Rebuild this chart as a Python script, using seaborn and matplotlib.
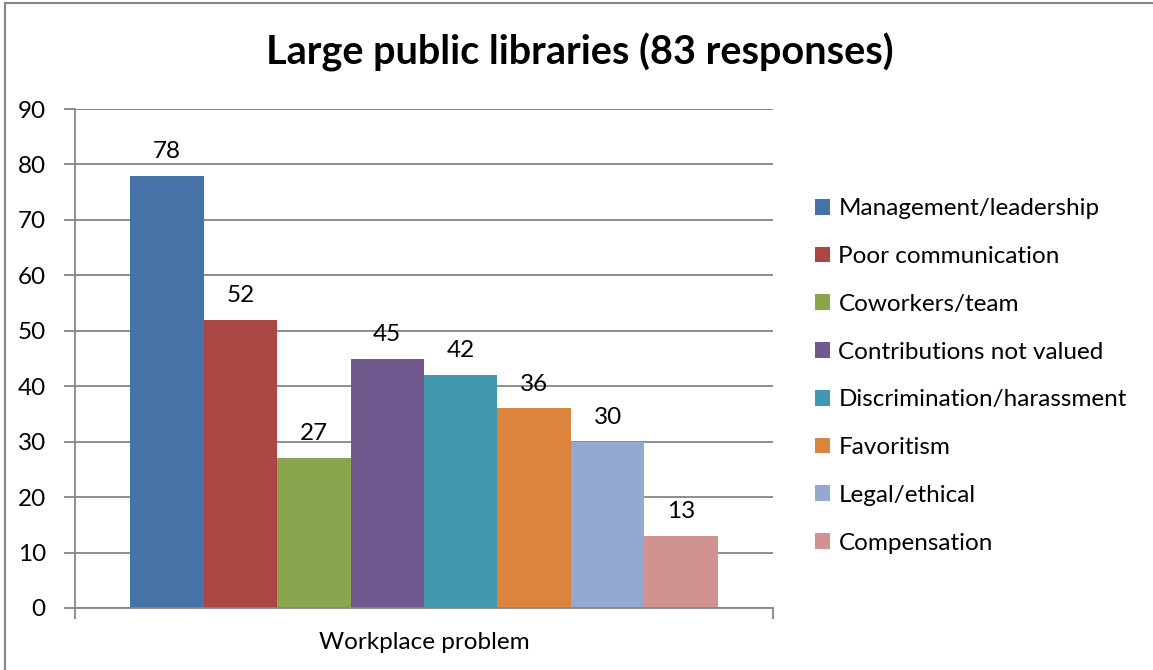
import seaborn as sns
import matplotlib.pyplot as plt
import pandas as pd
from matplotlib.lines import Line2D
from matplotlib.patches import Patch

categories = ['Management/leadership', 'Poor communication', 'Coworkers/team',
              'Contributions not valued', 'Discrimination/harassment',
              'Favoritism', 'Legal/ethical', 'Compensation']
values = [78, 52, 27, 45, 42, 36, 30, 13]
colors = ['#4572A7', '#AA4643', '#89A54E', '#71588F',
          '#4198AF', '#DB843D', '#93A9CF', '#D19392']
group = 'Workplace problem'
title = 'Large public libraries (83 responses)'

df = pd.DataFrame({'group': [group] * len(values), 'problem': categories, 'count': values})

sns.set_style('white')
plt.rcParams['font.family'] = ['Lato', 'DejaVu Sans']
plt.rcParams['text.color'] = 'black'
plt.rcParams['xtick.labelcolor'] = 'black'
plt.rcParams['ytick.labelcolor'] = 'black'
grey = '#868686'
fs = 17.5

fig = plt.figure(figsize=(11.53, 6.70), dpi=100)
ax = fig.add_axes([75 / 1153, 62 / 670, 698 / 1153, 499 / 670])

sns.barplot(data=df, x='group', y='count', hue='problem', hue_order=categories,
            palette=colors, width=0.842, gap=0, saturation=1, legend=False,
            linewidth=0, ax=ax)

for c in ax.containers:
    ax.bar_label(c, padding=10, fontsize=fs, color='black')

ax.set_ylim(0, 90)
ax.set_xlim(-0.5, 0.5)
ax.set_yticks(range(0, 91, 10))
ax.yaxis.grid(True, color=grey, linewidth=1.3)
ax.set_axisbelow(True)
ax.tick_params(axis='y', left=True, length=8, width=1.3, color=grey, labelsize=fs, pad=13)
ax.tick_params(axis='x', bottom=False, labelsize=fs, pad=14)
ax.set_xticks([-0.5, 0.5], minor=True)
ax.tick_params(axis='x', which='minor', bottom=True, length=8, width=1.3, color=grey)
ax.set_xlabel('')
ax.set_ylabel('')
for s in ['top', 'right']:
    ax.spines[s].set_visible(False)
for s in ['left', 'bottom']:
    ax.spines[s].set_color(grey)
    ax.spines[s].set_linewidth(1.3)

handles = [Patch(facecolor=c, edgecolor='none') for c in colors]
fig.legend(handles, categories, loc='center left', bbox_to_anchor=(793 / 1153, 1 - 376 / 670),
           frameon=False, fontsize=fs, handlelength=0.62, handleheight=0.62,
           handletextpad=0.35, labelspacing=1.10)

fig.suptitle(title, x=0.503, y=1 - 52 / 670, va='center', fontsize=28.5,
             fontweight='bold', color='black')

# outer chart border (top and left visible)
fig.add_artist(Line2D([5 / 1153, 1], [1 - 3 / 670, 1 - 3 / 670], color=grey, lw=1.5))
fig.add_artist(Line2D([5 / 1153, 5 / 1153], [0, 1 - 3 / 670], color=grey, lw=1.5))

fig.savefig('out.png', dpi=100)
